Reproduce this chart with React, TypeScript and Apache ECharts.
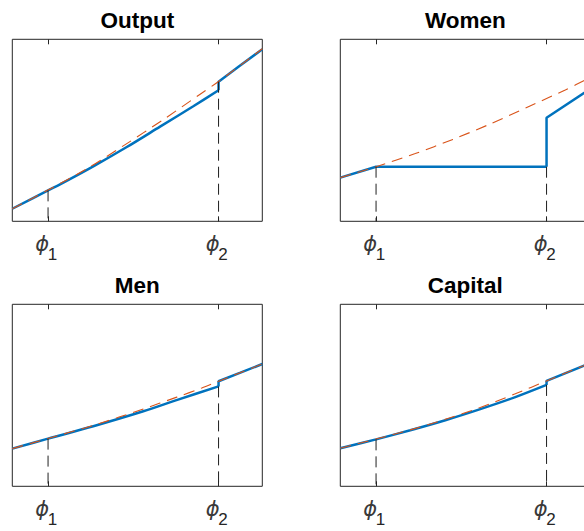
import React, { useEffect, useRef } from "react";
import * as echarts from "echarts";

// ---------- data ----------
const PANEL_TITLES = ["Output", "Women", "Men", "Capital"];
const PHI_TICKS = [0.143, 0.825];
const PHI_SYMBOL = "\u03D5";
const PHI_SUBSCRIPTS = ["1", "2"];

// Output
const OUTPUT_BLUE_PRE = [[0, 0.069], [0.143, 0.17], [0.191, 0.203], [0.324, 0.302], [0.458, 0.408], [0.591, 0.52], [0.724, 0.632], [0.825, 0.72]];
const OUTPUT_BLUE_POST = [[0.825, 0.72], [0.825, 0.767], [0.91, 0.855], [1, 0.945]];
const OUTPUT_RED = [[0, 0.069], [0.143, 0.172], [0.3, 0.29], [0.45, 0.42], [0.6, 0.555], [0.75, 0.697], [0.825, 0.768], [1, 0.948]];
const OUTPUT_GUIDES = [0.17, 0.767];

// Women
const WOMEN_BLUE_PRE = [[0, 0.24], [0.143, 0.3], [0.825, 0.3]];
const WOMEN_BLUE_POST = [[0.825, 0.3], [0.825, 0.569], [1, 0.728]];
const WOMEN_RED = [[0, 0.24], [0.143, 0.3], [0.3, 0.372], [0.45, 0.45], [0.6, 0.535], [0.75, 0.628], [0.9, 0.722], [1, 0.79]];
const WOMEN_GUIDES = [0.3, 0.3];

// Men
const MEN_BLUE_PRE = [[0, 0.207], [0.143, 0.262], [0.324, 0.33], [0.524, 0.412], [0.66, 0.475], [0.825, 0.549]];
const MEN_BLUE_POST = [[0.825, 0.549], [0.825, 0.577], [0.91, 0.623], [1, 0.672]];
const MEN_RED = [[0, 0.207], [0.143, 0.263], [0.33, 0.337], [0.524, 0.425], [0.658, 0.49], [0.758, 0.54], [0.825, 0.577], [1, 0.672]];
const MEN_GUIDES = [0.262, 0.549];

// Capital
const CAPITAL_BLUE_PRE = [[0, 0.209], [0.143, 0.258], [0.28, 0.308], [0.42, 0.363], [0.56, 0.424], [0.7, 0.49], [0.825, 0.557]];
const CAPITAL_BLUE_POST = [[0.825, 0.557], [0.825, 0.579], [0.975, 0.663], [1, 0.677]];
const CAPITAL_RED = [[0, 0.209], [0.143, 0.26], [0.28, 0.31], [0.42, 0.368], [0.56, 0.433], [0.7, 0.508], [0.825, 0.579], [1, 0.678]];
const CAPITAL_GUIDES = [0.258, 0.557];

const PANELS = [
  { title: PANEL_TITLES[0], pre: OUTPUT_BLUE_PRE, post: OUTPUT_BLUE_POST, red: OUTPUT_RED, guides: OUTPUT_GUIDES, smoothPre: true },
  { title: PANEL_TITLES[1], pre: WOMEN_BLUE_PRE, post: WOMEN_BLUE_POST, red: WOMEN_RED, guides: WOMEN_GUIDES, smoothPre: false },
  { title: PANEL_TITLES[2], pre: MEN_BLUE_PRE, post: MEN_BLUE_POST, red: MEN_RED, guides: MEN_GUIDES, smoothPre: true },
  { title: PANEL_TITLES[3], pre: CAPITAL_BLUE_PRE, post: CAPITAL_BLUE_POST, red: CAPITAL_RED, guides: CAPITAL_GUIDES, smoothPre: true },
];

// ---------- layout / style ----------
const W = 584;
const H = 531;
const CANVAS_W = 620; // wider than the window so the right column can run past the edge
const GRID_W = 250;
const GRID_H = 182;
const LEFTS = [12.3, 340.3];
const TOPS = [39.3, 304.3];
const BLUE = "#0072BD";
const RED = "#D95319";
const AXIS = "#262626";

function nearestIndex(v: number) {
  let idx = 0;
  let best = Infinity;
  PHI_TICKS.forEach((t, k) => {
    const d = Math.abs(t - v);
    if (d < best) { best = d; idx = k; }
  });
  return idx;
}

function buildOption() {
  const grid: any[] = [];
  const xAxis: any[] = [];
  const yAxis: any[] = [];
  const series: any[] = [];
  const graphic: any[] = [];

  PANELS.forEach((p, i) => {
    const left = LEFTS[i % 2];
    const top = TOPS[Math.floor(i / 2)];
    grid.push({
      left, top, width: GRID_W, height: GRID_H,
      show: true, borderColor: AXIS, borderWidth: 1, backgroundColor: "transparent",
    });
    const tickCommon = {
      show: true, inside: true, length: 5, customValues: PHI_TICKS,
      lineStyle: { color: AXIS, width: 1 },
    };
    // bottom axis: ticks + phi symbols
    xAxis.push({
      gridIndex: i, type: "value", min: 0, max: 1, position: "bottom",
      axisLine: { show: false }, splitLine: { show: false },
      axisTick: tickCommon,
      axisLabel: {
        show: true,
        customValues: PHI_TICKS,
        margin: 12,
        padding: [0, 12, 0, 0],
        formatter: () => PHI_SYMBOL,
        fontSize: 21, fontStyle: "italic", fontFamily: "DejaVu Sans", color: "#3a3a3a",
      },
    });
    // top axis: mirrored ticks
    xAxis.push({
      gridIndex: i, type: "value", min: 0, max: 1, position: "top",
      axisLine: { show: false }, splitLine: { show: false },
      axisTick: tickCommon, axisLabel: { show: false },
    });
    // bottom axis: subscripts
    xAxis.push({
      gridIndex: i, type: "value", min: 0, max: 1, position: "bottom",
      axisLine: { show: false }, splitLine: { show: false }, axisTick: { show: false },
      axisLabel: {
        show: true,
        customValues: PHI_TICKS,
        margin: 25,
        padding: [0, 0, 0, 9],
        formatter: (v: number) => PHI_SUBSCRIPTS[nearestIndex(v)],
        fontSize: 17, fontFamily: "Liberation Sans", color: "#262626",
      },
    });
    yAxis.push({ gridIndex: i, type: "value", min: 0, max: 1, show: false });

    const xi = 3 * i;
    series.push({
      type: "line", xAxisIndex: xi, yAxisIndex: i, data: p.pre, smooth: p.smoothPre ? 0.3 : false,
      symbol: "none", lineStyle: { color: BLUE, width: 2.5 }, silent: true, z: 2,
    });
    series.push({
      type: "line", xAxisIndex: xi, yAxisIndex: i, data: p.post, smooth: false,
      symbol: "none", lineStyle: { color: BLUE, width: 2.5 }, silent: true, z: 2,
    });
    series.push({
      type: "line", xAxisIndex: xi, yAxisIndex: i, data: p.red, smooth: 0.3,
      symbol: "none", lineStyle: { color: RED, width: 1.1, type: [11, 7] }, silent: true, z: 3,
    });
    PHI_TICKS.forEach((t, k) => {
      series.push({
        type: "line", xAxisIndex: xi, yAxisIndex: i, data: [[t, p.guides[k]], [t, 0]],
        symbol: "none", lineStyle: { color: "#1f1f1f", width: 1, type: [11, 6] }, silent: true, z: 4,
      });
    });

    graphic.push({
      type: "text", x: left + GRID_W / 2, y: top - 18.5,
      style: {
        text: p.title, align: "center", verticalAlign: "middle",
        fontSize: 22.5, fontWeight: "bold", fontFamily: "Liberation Sans", fill: "#000",
      },
    });
  });

  return { animation: false, grid, xAxis, yAxis, series, graphic };
}

export default function App() {
  const ref = useRef<HTMLDivElement>(null);
  useEffect(() => {
    document.body.style.margin = "0";
    if (!ref.current) return;
    const chart = echarts.init(ref.current, undefined, { renderer: "svg" });
    chart.setOption(buildOption() as any);
    return () => chart.dispose();
  }, []);
  return (
    <div style={{ width: W, height: H, overflow: "hidden", background: "#fff" }}>
      <div ref={ref} style={{ width: CANVAS_W, height: H }} />
    </div>
  );
}
